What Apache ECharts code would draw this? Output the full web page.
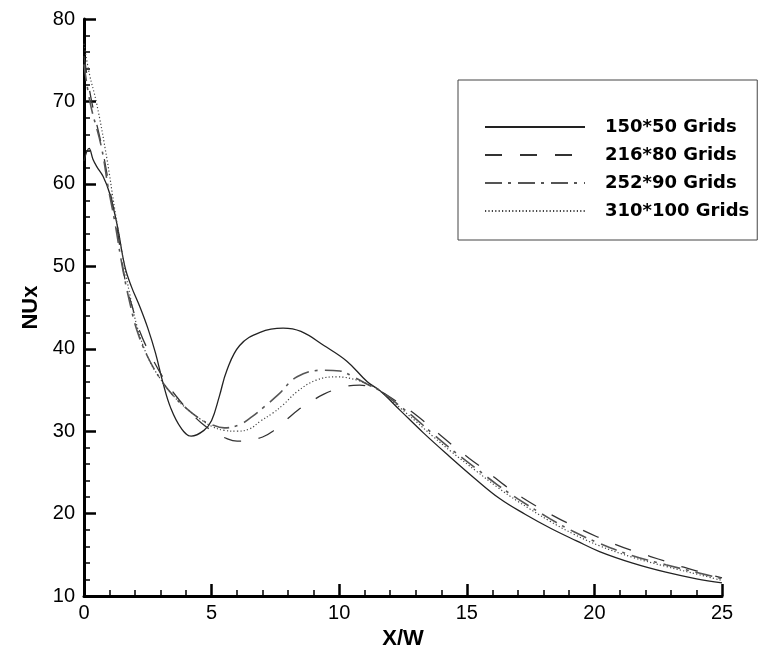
<!DOCTYPE html>
<html>
<head>
<meta charset="utf-8">
<script src="https://cdn.jsdelivr.net/npm/echarts/dist/echarts.min.js"></script>
<style>
  html, body { margin: 0; padding: 0; background: #fff; }
  #chart { width: 771px; height: 655px; }
</style>
</head>
<body>
<div id="chart"></div>
<script>
// ---- data ----
const seriesNames = ['150*50 Grids', '216*80 Grids', '252*90 Grids', '310*100 Grids'];

const xTicks = [0, 5, 10, 15, 20, 25];
const yTicks = [10, 20, 30, 40, 50, 60, 70, 80];

const x150 = [0, 0.2, 0.35, 0.5, 0.75, 1.0, 1.3, 1.6, 1.85, 2.2, 2.5, 2.8, 3.1, 3.4, 3.8, 4.2, 4.7, 5.0, 5.3, 5.6, 6.1, 6.9, 7.8, 8.5, 9.4, 10.3, 11.1, 11.6, 12.4, 13.3, 14.3, 15.3, 16.3, 17.3, 18.3, 19.3, 20.2, 21.5, 22.8, 24.0, 25];
const y150 = [62.8, 64.3, 63.0, 62.1, 60.9, 58.9, 55.0, 50.0, 47.6, 45.0, 42.5, 39.5, 35.8, 32.8, 30.4, 29.4, 30.1, 31.3, 34.2, 37.4, 40.4, 42.0, 42.5, 42.1, 40.4, 38.5, 36.0, 34.9, 32.5, 29.8, 27.0, 24.3, 21.8, 19.9, 18.2, 16.7, 15.4, 14.0, 12.9, 12.1, 11.6];

const x216 = [0, 0.3, 0.7, 1.0, 1.3, 1.6, 1.9, 2.2, 2.6, 3.1, 3.6, 4.1, 4.6, 5.1, 5.6, 6.0, 6.5, 7.0, 7.4, 7.9, 8.4, 8.8, 9.4, 10.2, 10.8, 11.3, 11.6, 12.4, 13.0, 13.7, 14.4, 15.1, 15.8, 16.5, 17.2, 17.9, 18.6, 19.4, 20.1, 20.8, 21.5, 22.2, 22.8, 23.5, 24.2, 25];
const y216 = [75.5, 70.0, 64.5, 59.5, 54.5, 48.5, 45.0, 42.0, 39.3, 36.5, 34.3, 32.5, 31.0, 29.9, 29.1, 28.8, 28.9, 29.3, 30.0, 31.3, 32.6, 33.4, 34.5, 35.4, 35.6, 35.3, 34.9, 33.3, 32.0, 30.2, 28.4, 26.7, 25.1, 23.4, 21.9, 20.6, 19.4, 18.2, 17.2, 16.3, 15.5, 14.8, 14.2, 13.5, 12.9, 12.2];

const x252 = [0, 0.25, 0.68, 0.94, 1.2, 1.5, 1.8, 2.1, 2.5, 3.0, 3.5, 4.0, 4.5, 5.0, 5.5, 6.1, 6.6, 7.0, 7.6, 8.35, 9.37, 10.03, 10.55, 11.1, 11.6, 12.4, 13.0, 13.7, 14.4, 15.4, 16.2, 17.0, 18.25, 19.2, 20.2, 21.5, 22.8, 24.1, 25];
const y252 = [74.5, 69.7, 64.5, 59.7, 55.5, 50.0, 45.5, 42.0, 39.0, 36.3, 34.3, 32.8, 31.6, 30.8, 30.4, 30.8, 31.8, 32.8, 34.4, 36.6, 37.4, 37.3, 36.6, 35.7, 34.9, 33.0, 31.5, 29.6, 27.8, 25.4, 23.5, 21.8, 19.4, 17.8, 16.4, 14.9, 13.8, 12.8, 12.1];

const x310 = [0, 0.2, 0.5, 0.9, 1.2, 1.5, 1.8, 2.1, 2.5, 3.0, 3.5, 4.0, 4.5, 5.0, 5.5, 6.0, 6.5, 6.9, 7.4, 7.8, 8.35, 9.1, 9.9, 10.7, 11.2, 11.6, 12.4, 13.0, 13.7, 14.4, 15.4, 16.2, 17.0, 18.25, 19.2, 20.2, 21.5, 22.8, 24.1, 25];
const y310 = [77.0, 73.5, 69.7, 63.0, 57.0, 51.5, 46.5, 42.5, 39.0, 36.3, 34.3, 32.8, 31.6, 30.6, 30.1, 30.0, 30.3, 31.2, 32.2, 33.2, 34.8, 36.2, 36.6, 36.2, 35.6, 34.9, 32.8, 31.2, 29.3, 27.5, 25.1, 23.2, 21.5, 19.1, 17.5, 16.1, 14.7, 13.6, 12.6, 11.9];

// ---- build ----
function zip(xs, ys) { return xs.map((x, i) => [x, ys[i]]); }

const chart = echarts.init(document.getElementById('chart'), null, { renderer: 'canvas' });

const axisFont = 'Liberation Sans, Arial, sans-serif';
const clear = 'rgba(0,0,0,0)';

const option = {
  animation: false,
  backgroundColor: '#fff',
  grid: { left: 84, right: 49, top: 19, bottom: 56, containLabel: false },
  legend: {
    orient: 'vertical',
    left: 458,
    top: 80,
    padding: [38, 8, 20, 26],
    itemWidth: 100,
    itemHeight: 14,
    itemGap: 10,
    borderColor: '#444',
    borderWidth: 1,
    backgroundColor: '#fff',
    data: seriesNames,
    itemStyle: { color: clear, borderColor: clear, borderWidth: 0, opacity: 0 },
    textStyle: {
      fontFamily: 'DejaVu Sans',
      fontWeight: 'bold',
      fontSize: 18,
      lineHeight: 18,
      color: '#000',
      padding: [0, 0, 0, 15]
    }
  },
  xAxis: {
    type: 'value',
    min: xTicks[0],
    max: xTicks[xTicks.length - 1],
    interval: xTicks[1] - xTicks[0],
    name: 'X/W',
    nameLocation: 'middle',
    nameGap: 30,
    nameTextStyle: { fontFamily: axisFont, fontWeight: 'bold', fontSize: 22, color: '#000' },
    axisLine: { lineStyle: { color: '#000', width: 3 } },
    axisTick: { inside: true, length: 12, lineStyle: { color: '#000', width: 2.5 } },
    minorTick: { show: true, splitNumber: 5, length: 6, lineStyle: { color: '#000', width: 1.5 } },
    splitLine: { show: false },
    axisLabel: { fontFamily: axisFont, fontSize: 20, color: '#000', margin: 7 }
  },
  yAxis: {
    type: 'value',
    min: yTicks[0],
    max: yTicks[yTicks.length - 1],
    interval: yTicks[1] - yTicks[0],
    name: 'NUx',
    nameLocation: 'middle',
    nameGap: 42,
    nameRotate: 90,
    nameTextStyle: { fontFamily: axisFont, fontWeight: 'bold', fontSize: 22, color: '#000' },
    axisLine: { show: true, lineStyle: { color: '#000', width: 3 } },
    axisTick: { show: true, inside: true, length: 12, lineStyle: { color: '#000', width: 2.5 } },
    minorTick: { show: true, splitNumber: 5, length: 6, lineStyle: { color: '#000', width: 1.5 } },
    splitLine: { show: false },
    axisLabel: { fontFamily: axisFont, fontSize: 20, color: '#000', margin: 9 }
  },
  series: [
    {
      name: seriesNames[0], type: 'line', symbol: 'none', smooth: 0.4,
      data: zip(x150, y150),
      lineStyle: { color: '#222', width: 1.3, type: 'solid' },
      itemStyle: { color: '#222' }
    },
    {
      name: seriesNames[1], type: 'line', symbol: 'none', smooth: 0.4,
      data: zip(x216, y216),
      lineStyle: { color: '#333', width: 1.3, type: [17, 18] },
      itemStyle: { color: '#333' }
    },
    {
      name: seriesNames[2], type: 'line', symbol: 'none', smooth: 0.4,
      data: zip(x252, y252),
      lineStyle: { color: '#555', width: 1.6, type: [17, 6, 3, 7] },
      itemStyle: { color: '#555' }
    },
    {
      name: seriesNames[3], type: 'line', symbol: 'none', smooth: 0.4,
      data: zip(x310, y310),
      lineStyle: { color: '#444', width: 1.2, type: [1.2, 2.2] },
      itemStyle: { color: '#444' }
    }
  ]
};

chart.setOption(option);
</script>
</body>
</html>
